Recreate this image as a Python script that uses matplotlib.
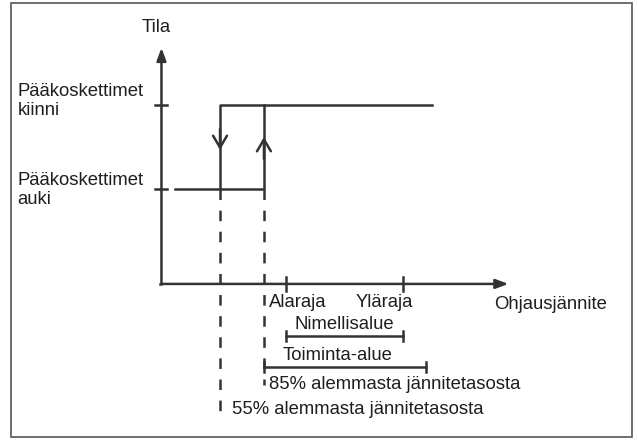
import matplotlib
matplotlib.use("Agg")
import matplotlib.pyplot as plt
from matplotlib.patches import Rectangle

plt.rcParams['font.family'] = ['Liberation Sans', 'DejaVu Sans']
plt.rcParams['lines.scale_dashes'] = False

# ---- data ------------------------------------------------------------------
# x: ohjausjännite, % alemmasta jännitetasosta ; y: tila (0 = auki, 1 = kiinni)
state_levels = [0, 1]
state_labels = ["Pääkoskettimet\nauki", "Pääkoskettimet\nkiinni"]
drop_out = 55          # pääkoskettimet aukeavat
pull_in = 85           # pääkoskettimet sulkeutuvat
nominal = [100, 180]   # Alaraja, Yläraja
nominal_labels = ["Alaraja", "Yläraja"]
operating = [85, 196]  # toiminta-alue
curve_start, curve_end = 24, 200
axis_origin = (15, -1.13)
axis_end = (252, 1.68)
dash_end = {55: -2.69, 85: -2.33}

# ---- layout (pixels -> data) ---------------------------------------------
W, H = 638, 440
X_PX0, X_PX = 139.5, 1.464     # pixel of 0 %, pixels per %
Y_PX0, Y_PX = 189.0, 84.0      # pixel of state 0, pixels per state step


def dx(px):
    return px / X_PX


def dy(px):
    return px / Y_PX


INK = '#333333'
TXT = '#1e1e1e'
LW = 1.8
FS = 13.3

fig = plt.figure(figsize=(W / 100, H / 100), dpi=100)
ax = fig.add_axes([0, 0, 1, 1])
ax.set_xlim(-X_PX0 / X_PX, (W - X_PX0) / X_PX)
ax.set_ylim(-(H - Y_PX0) / Y_PX, Y_PX0 / Y_PX)
ax.axis('off')

# frame
fig.patches.append(Rectangle((11 / W, 3 / H), 621 / W, 434 / H, fill=False,
                             edgecolor='#555555', lw=1.2,
                             transform=fig.transFigure))

# axes with arrows
x0, y0 = axis_origin
arrow = dict(arrowstyle='-|>,head_length=0.75,head_width=0.28', color=INK,
             lw=LW, shrinkA=0, shrinkB=0)
ax.annotate('', xy=(x0, axis_end[1]), xytext=(x0, y0), arrowprops=arrow)
ax.annotate('', xy=(axis_end[0], y0), xytext=(x0, y0), arrowprops=arrow)
ax.plot([x0 - dx(1), x0], [y0, y0], color=INK, lw=LW, solid_capstyle='projecting')

# y ticks + state labels
for lev, lab in zip(state_levels, state_labels):
    ax.plot([x0 - dx(6), x0 + dx(6)], [lev, lev], color=INK, lw=LW)
    ax.text(x0 - dx(144), lev - dy(1) + dy(5) * lev, lab, fontsize=FS,
            color=TXT, ha='left', va='center', linespacing=1.2)
ax.text(x0 - dx(5), axis_end[1] + dy(20), "Tila", fontsize=FS, color=TXT,
        ha='center', va='center')

# x ticks
for xv, lab in zip(nominal, nominal_labels):
    ax.plot([xv, xv], [y0 - dy(7), y0 + dy(7)], color=INK, lw=LW)
ax.text(nominal[0] - dx(17), y0 - dy(19), nominal_labels[0], fontsize=FS,
        color=TXT, ha='left', va='center')
ax.text(nominal[1] + dx(10), y0 - dy(19), nominal_labels[1], fontsize=FS,
        color=TXT, ha='right', va='center')
ax.text(axis_end[0] - dx(14), y0 - dy(21), "Ohjausjännite", fontsize=FS,
        color=TXT, ha='left', va='center')

# hysteresis curve
ax.plot([curve_start, pull_in, pull_in], [0, 0, 1], color=INK, lw=LW)
ax.plot([drop_out, drop_out, curve_end], [0, 1, 1], color=INK, lw=LW)

open_arrow = dict(arrowstyle='->,head_length=0.85,head_width=0.5', color=INK,
                  lw=LW, shrinkA=0, shrinkB=0)
ax.annotate('', xy=(drop_out, dy(39)), xytext=(drop_out, dy(60)),
            arrowprops=open_arrow)
ax.annotate('', xy=(pull_in, dy(52)), xytext=(pull_in, dy(30)),
            arrowprops=open_arrow)

# dashed drop lines
for xv in (drop_out, pull_in):
    ax.plot([xv, xv], [0, dash_end[xv]], color=INK, lw=LW,
            dashes=(7.6, 7.6))

ax.text(pull_in + dx(5), dash_end[85], "85% alemmasta jännitetasosta",
        fontsize=FS, color=TXT, ha='left', va='center')
ax.text(drop_out + dx(12), dash_end[55] + dy(5), "55% alemmasta jännitetasosta",
        fontsize=FS, color=TXT, ha='left', va='center')

# range bars
bar_y = {'nom': -dy(147), 'op': -dy(178)}
for (a, b), key in ((nominal, 'nom'), (operating, 'op')):
    yb = bar_y[key]
    ax.plot([a, b], [yb, yb], color=INK, lw=LW)
    for xv in (a, b):
        ax.plot([xv, xv], [yb - dy(5), yb + dy(5)], color=INK, lw=LW)
ax.text(sum(nominal) / 2, bar_y['nom'] + dy(12), "Nimellisalue", fontsize=FS,
        color=TXT, ha='center', va='center')
ax.text(operating[0] + dx(19), bar_y['op'] + dy(12), "Toiminta-alue",
        fontsize=FS, color=TXT, ha='left', va='center')

fig.savefig('out.png', dpi=100)
